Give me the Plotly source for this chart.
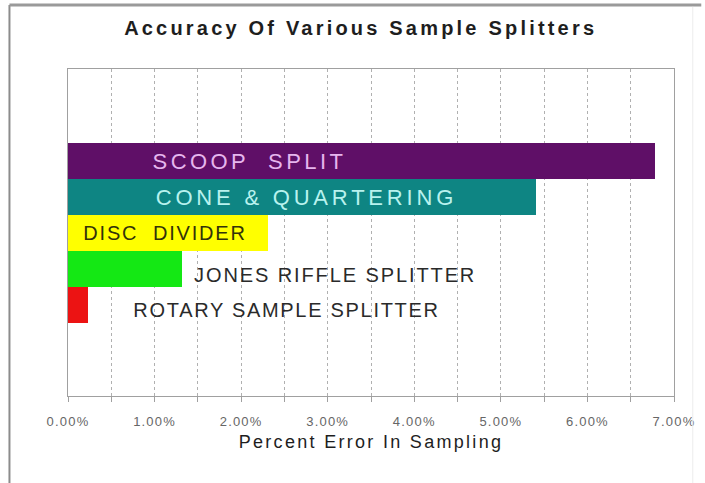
import plotly.graph_objects as go

# ---- data ----
categories = ["ROTARY SAMPLE SPLITTER", "JONES RIFFLE SPLITTER", "DISC DIVIDER",
              "CONE & QUARTERING", "SCOOP SPLIT"]
label_text = ["ROTARY SAMPLE SPLITTER", "JONES RIFFLE SPLITTER", "DISC\u00a0\u00a0DIVIDER",
              "CONE & QUARTERING", "SCOOP\u00a0\u00a0SPLIT"]
error_pct = [0.23, 1.32, 2.31, 5.41, 6.78]
tick_vals = [0, 1, 2, 3, 4, 5, 6, 7]
tick_text = ["0.00%", "1.00%", "2.00%", "3.00%", "4.00%", "5.00%", "6.00%", "7.00%"]

bar_colors = ["#ec1313", "#14e814", "#ffff00", "#0e8583", "#5f0f67"]
label_colors = ["#2a2a2a", "#2a2a2a", "#33330a", "#b8f2ee", "#e6b6ee"]
label_sizes = [20, 20, 20, 22, 22]
label_x = [2.52, 3.08, 1.12, 2.75, 2.10]
label_shift = [-5, -6, 0, 0, 0]

FONT = "Liberation Sans, Arial, sans-serif"

fig = go.Figure()
fig.add_trace(go.Bar(
    x=error_pct, y=categories, orientation="h",
    marker=dict(color=bar_colors, line=dict(width=0)),
    hoverinfo="skip",
))

annotations = []
for cat, txt, col, sz, lx, ys in zip(categories, label_text, label_colors,
                                     label_sizes, label_x, label_shift):
    annotations.append(dict(
        x=lx, y=cat, xref="x", yref="y", text=txt, showarrow=False,
        xanchor="center", yanchor="middle", yshift=ys,
        font=dict(family=FONT, size=sz, color=col),
    ))

shapes = [
    dict(type="line", xref="paper", yref="paper", x0=-0.0966, x1=-0.0966,
         y0=1.196, y1=-0.27, line=dict(color="#8c8c8c", width=2)),
    dict(type="line", xref="paper", yref="paper", x0=-0.0966, x1=1.045,
         y0=1.196, y1=1.196, line=dict(color="#9a9a9a", width=3)),
    dict(type="line", xref="paper", yref="paper", x0=1.031, x1=1.031,
         y0=1.19, y1=-0.27, line=dict(color="#ececec", width=1)),
]

fig.update_layout(
    width=705, height=483,
    margin=dict(l=68, r=26, t=69, b=87),
    paper_bgcolor="white", plot_bgcolor="white",
    bargap=0,
    showlegend=False,
    title=dict(text="<b>Accuracy Of Various Sample Splitters</b>",
               x=0.483, xref="paper", xanchor="center",
               y=1 - 28 / 483, yref="container", yanchor="middle",
               font=dict(family=FONT, size=20, color="#1e1e1e")),
    annotations=annotations,
    shapes=shapes,
    hovermode=False,
)

fig.update_xaxes(
    range=[0, 7], tickvals=tick_vals, ticktext=tick_text,
    showline=True, linecolor="#a0a0a0", linewidth=1, mirror=True,
    ticks="outside", ticklen=5, tickcolor="#a0a0a0",
    ticklabelstandoff=8,
    tickfont=dict(family=FONT, size=13, color="#666666"),
    showgrid=True, gridcolor="#b0b0b0", griddash="dot", gridwidth=1,
    minor=dict(dtick=0.5, tick0=0, showgrid=True, gridcolor="#b0b0b0",
               griddash="dot", gridwidth=1, ticks="outside", ticklen=5,
               tickcolor="#a0a0a0"),
    zeroline=False,
    title=dict(text="Percent Error In Sampling", standoff=7,
               font=dict(family=FONT, size=18, color="#1e1e1e")),
)
fig.update_yaxes(
    type="category", range=[-2.53, 6.56],
    showticklabels=False, ticks="", showgrid=False,
    showline=True, linecolor="#a0a0a0", linewidth=1, mirror=True,
    zeroline=False,
)

post_js = """
document.body.style.margin = '0';
document.body.style.padding = '0';
document.body.style.overflow = 'hidden';
var gd = document.getElementById('{plot_id}');
function applySpacing(){
  function set(sel, v){ gd.querySelectorAll(sel).forEach(function(e){ e.style.letterSpacing = v; }); }
  set('.gtitle', '3.2px');
  set('.xtitle', '2.3px');
  set('.xtick text', '1.2px');
  var sps = ['1.7px', '1.9px', '1.8px', '3.8px', '3.4px'];
  gd.querySelectorAll('.annotation-text').forEach(function(e, i){ e.style.letterSpacing = sps[i] || '0px'; });
}
applySpacing();
"""

fig.write_html("out.html", config={"displayModeBar": False, "staticPlot": True},
               post_script=post_js)
